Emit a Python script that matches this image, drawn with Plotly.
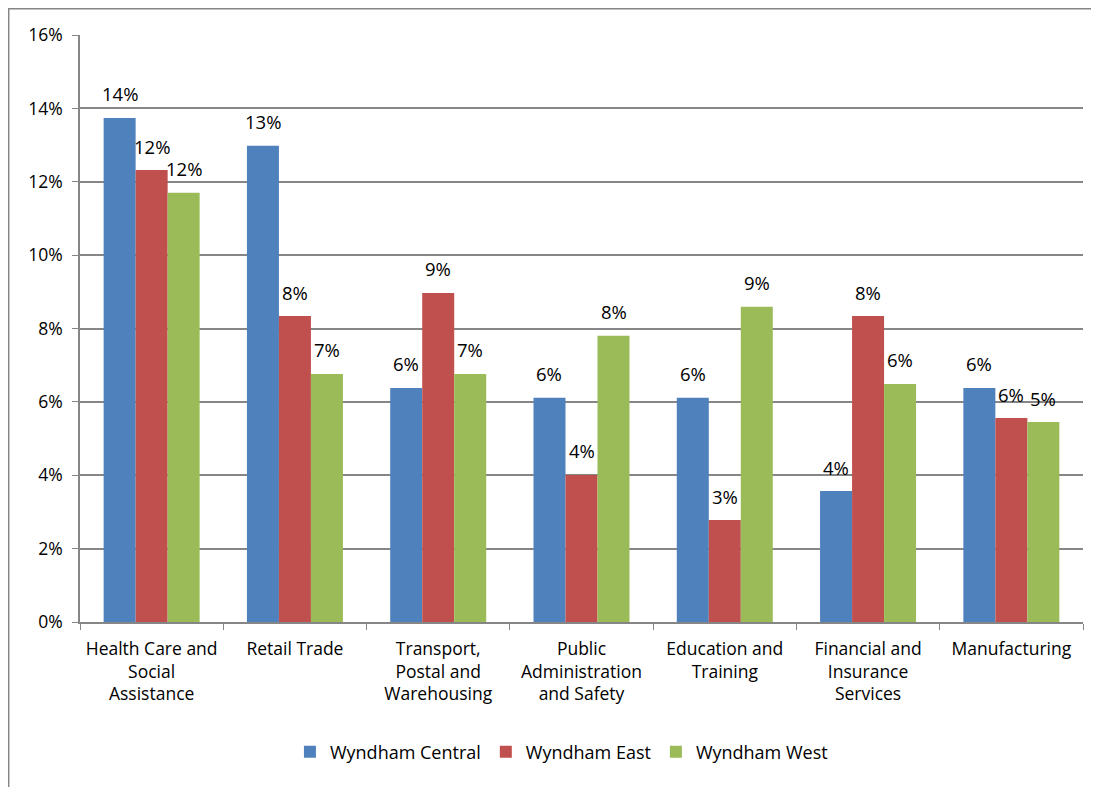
import plotly.graph_objects as go

categories = ["Health Care and<br>Social<br>Assistance", "Retail Trade", "Transport,<br>Postal and<br>Warehousing",
              "Public<br>Administration<br>and Safety", "Education and<br>Training", "Financial and<br>Insurance<br>Services",
              "Manufacturing"]
central = [13.74, 12.98, 6.38, 6.11, 6.11, 3.57, 6.38]
east = [12.32, 8.34, 8.97, 4.01, 2.78, 8.34, 5.56]
west = [11.70, 6.76, 6.76, 7.80, 8.59, 6.49, 5.45]
series = [("Wyndham Central", central, "#4F81BD"),
          ("Wyndham East", east, "#C0504D"),
          ("Wyndham West", west, "#9BBB59")]

FONT = "Open Sans"
FS = 17.5
W, H = 1091, 779
L, R, T, B = 72, 16, 27, 165
plot_w = W - L - R
plot_h = H - T - B
bar_w = plot_w / len(categories) * (1 - 0.33) / 3

fig = go.Figure()
annotations = []
for i, (name, vals, col) in enumerate(series):
    fig.add_trace(go.Bar(
        x=categories, y=[v / 100 for v in vals], name=name, marker_color=col,
        marker_line_width=0))
    for c, v in zip(categories, vals):
        annotations.append(dict(
            x=c, y=v / 100, xref="x", yref="y", text=f"{round(v):d}%",
            showarrow=False, xshift=(i - 1) * bar_w, yshift=24,
            yanchor="middle", font=dict(size=18.5, family=FONT, color="black")))

fig.update_layout(
    width=W, height=H, barmode="group", bargap=0.33, bargroupgap=0,
    plot_bgcolor="white", paper_bgcolor="white",
    margin=dict(l=L, r=R, t=T, b=B),
    font=dict(family=FONT, size=FS, color="black"),
    legend=dict(orientation="h", x=0.48, xanchor="center", y=-0.19, yanchor="top",
                font=dict(size=18, family=FONT), traceorder="normal", itemwidth=30),
    xaxis=dict(showline=True, linecolor="#868686", linewidth=1.5, ticks="outside",
               tickson="boundaries", tickcolor="#868686", ticklen=6, tickangle=0,
               ticklabelstandoff=10,
               automargin=False, tickfont=dict(size=FS, family=FONT)),
    yaxis=dict(range=[0, 0.16], dtick=0.02, tickformat=".0%", showgrid=True,
               gridcolor="#868686", gridwidth=1.5, showline=True, linecolor="#868686",
               linewidth=1.5, ticks="outside", tickcolor="#868686", ticklen=6,
               ticklabelstandoff=6,
               automargin=False, zeroline=False, tickfont=dict(size=FS, family=FONT)),
    annotations=annotations,
    shapes=[dict(type="rect", xref="paper", yref="paper",
                 x0=(8.7 - 80) / plot_w, x1=(1120 - 80) / plot_w,
                 y0=(622 - 800) / plot_h, y1=(622 - 8.7) / plot_h,
                 line=dict(color="#868686", width=1.5), layer="below")],
)
fig.write_html("out.html")
